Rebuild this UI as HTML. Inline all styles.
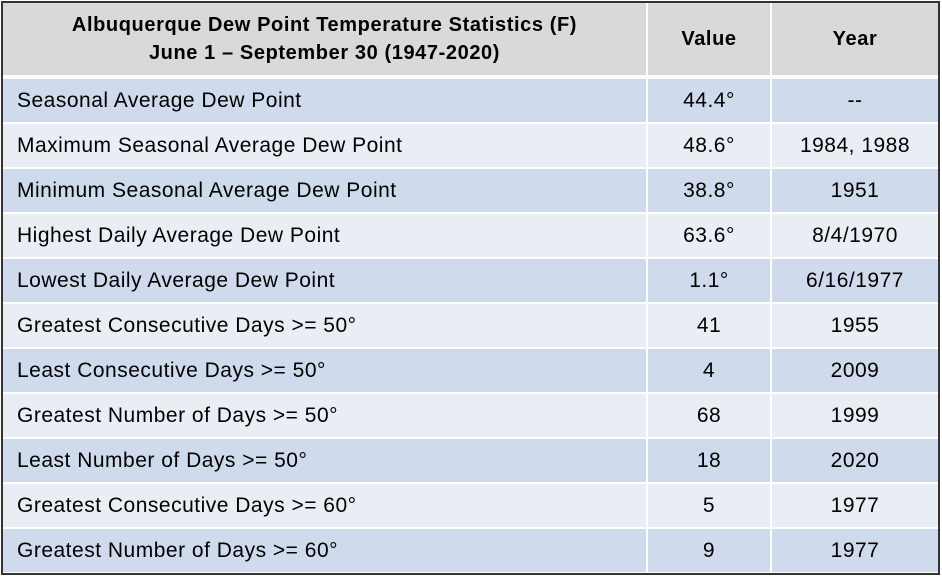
<!DOCTYPE html>
<html><head><meta charset="utf-8"><style>
body{margin:0;width:942px;height:579px;background:#fff;font-family:"Liberation Sans",sans-serif;overflow:hidden}
#t{position:absolute;left:1px;top:1px;width:935px;height:570px;border:2px solid #333;background:#fff}
.c{position:absolute;display:flex;align-items:center;box-sizing:border-box;font-size:21px;letter-spacing:0.5px;color:#000;white-space:nowrap}
.h{background:#d9d9d9;font-weight:bold;justify-content:center;text-align:center;font-size:20px;letter-spacing:0.6px;line-height:28px}
.l{padding-left:14px}
.m{justify-content:center}
</style></head><body>
<div id="t"></div>
<script>
const labels=["Seasonal Average Dew Point","Maximum Seasonal Average Dew Point","Minimum Seasonal Average Dew Point","Highest Daily Average Dew Point","Lowest Daily Average Dew Point","Greatest Consecutive Days >= 50°","Least Consecutive Days >= 50°","Greatest Number of Days >= 50°","Least Number of Days >= 50°","Greatest Consecutive Days >= 60°","Greatest Number of Days >= 60°"];
const values=["44.4°","48.6°","38.8°","63.6°","1.1°","41","4","68","18","5","9"];
const years=["--","1984, 1988","1951","8/4/1970","6/16/1977","1955","2009","1999","2020","1977","1977"];
const t=document.getElementById('t');
const cols=[[0,643],[645,122],[769,166]];
function cell(x,y,w,h,cls,html,name){const d=document.createElement('div');d.className='c '+cls;d.style.cssText=`left:${x}px;top:${y}px;width:${w}px;height:${h}px`;d.innerHTML=html;


t.appendChild(d);return d;}
cell(cols[0][0],0,cols[0][1],72,'h','Albuquerque Dew Point Temperature Statistics (F)<br>June 1 – September 30 (1947-2020)','header-statistic');
cell(cols[1][0],0,cols[1][1],72,'h','Value','header-value');
cell(cols[2][0],0,cols[2][1],72,'h','Year','header-year');
labels.forEach((lb,i)=>{
 const y=76+i*45, h=43, bg=i%2?'#e9edf4':'#cfdaec';
 cell(cols[0][0],y,cols[0][1],h,'l',lb,'row-label').style.background=bg;
 cell(cols[1][0],y,cols[1][1],h,'m',values[i],'row-value').style.background=bg;
 cell(cols[2][0],y,cols[2][1],h,'m',years[i],'row-year').style.background=bg;
});
</script>
</body></html>
